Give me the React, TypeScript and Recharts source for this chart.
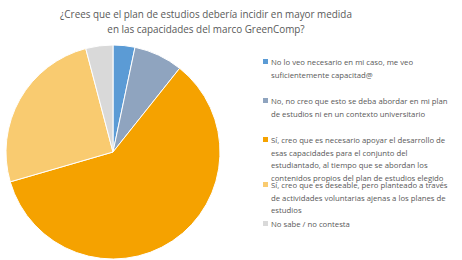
import { PieChart, Pie, Cell, Legend } from 'recharts'

const titulo = [
  '¿Crees que el plan de estudios debería incidir en mayor medida',
  'en las capacidades del marco GreenComp?',
]

const respuestas = [
  'No lo veo necesario en mi caso, me veo suficientemente capacitad@',
  'No, no creo que esto se deba abordar en mi plan de estudios ni en un contexto universitario',
  'Sí, creo que es necesario apoyar el desarrollo de esas capacidades para el conjunto del estudiantado, al tiempo que se abordan los contenidos propios del plan de estudios elegido',
  'Sí, creo que es deseable, pero planteado a través de actividades voluntarias ajenas a los planes de estudios',
  'No sabe / no contesta',
]

// lineas tal como salen partidas en la leyenda
const lineasLeyenda = [
  ['No lo veo necesario en mi caso, me veo', 'suficientemente capacitad@'],
  ['No, no creo que esto se deba abordar en mi plan', 'de estudios ni en un contexto universitario'],
  [
    'Sí, creo que es necesario apoyar el desarrollo de',
    'esas capacidades para el conjunto del',
    'estudiantado, al tiempo que se abordan los',
    'contenidos propios del plan de estudios elegido',
  ],
  [
    'Sí, creo que es deseable, pero planteado a través',
    'de actividades voluntarias ajenas a los planes de',
    'estudios',
  ],
  ['No sabe / no contesta'],
]

const porcentajes = [3.3, 7.4, 59.8, 25.4, 4.1]

const colores = ['#5B9BD5', '#8FA4BF', '#F5A200', '#F9CB70', '#D9D9D9']

const data = respuestas.map((name, i) => ({ name, value: porcentajes[i] }))

const fuente = '"Open Sans", "Noto Sans", sans-serif'

// posicion vertical de cada entrada de la leyenda
const topLeyenda = [56, 95, 134, 179, 218]

function Leyenda() {
  return (
    <div style={{ position: 'relative', width: 200, height: 200 }}>
      {lineasLeyenda.map((lineas, i) => (
        <div
          key={i}
          style={{
            position: 'absolute',
            left: 0,
            top: topLeyenda[i] - 56,
            fontSize: 7.75,
            lineHeight: '12.6px',
            color: '#595959',
            fontFamily: fuente,
            whiteSpace: 'nowrap',
          }}
        >
          <span
            style={{
              position: 'absolute',
              left: -8,
              top: 3,
              width: 5,
              height: 5,
              background: colores[i],
            }}
          />
          {lineas.map((l, j) => (
            <div key={j}>{l}</div>
          ))}
        </div>
      ))}
    </div>
  )
}

export default function App() {
  return (
    <div style={{ position: 'fixed', left: 0, top: 0, width: 462, height: 260, background: '#fff' }}>
      <div
        style={{
          position: 'absolute',
          left: 0,
          top: 7,
          width: 412,
          textAlign: 'center',
          fontFamily: fuente,
          fontSize: 9.9,
          lineHeight: '15px',
          color: '#595959',
        }}
      >
        {titulo.map((t, i) => (
          <div key={i}>{t}</div>
        ))}
      </div>
      <PieChart width={462} height={260} margin={{ top: 0, right: 0, bottom: 0, left: 0 }}>
        <Pie
          data={data}
          dataKey="value"
          cx={113}
          cy={152}
          outerRadius={107}
          startAngle={90}
          endAngle={-270}
          stroke="#fff"
          strokeWidth={1}
          isAnimationActive={false}
        >
          {data.map((_, i) => (
            <Cell key={i} fill={colores[i]} />
          ))}
        </Pie>
        <Legend
          layout="vertical"
          content={() => <Leyenda />}
          wrapperStyle={{ position: 'absolute', left: 271, top: 56, width: 200 }}
        />
      </PieChart>
    </div>
  )
}
